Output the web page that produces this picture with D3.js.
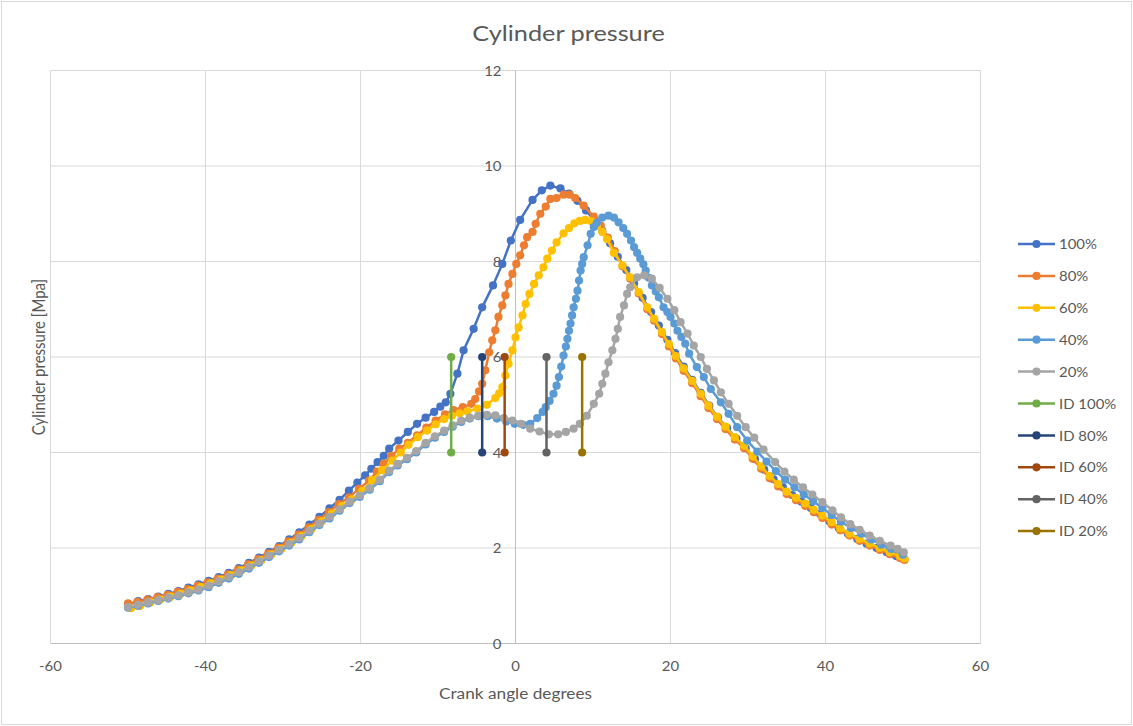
<!DOCTYPE html>
<html>
<head>
<meta charset="utf-8">
<script src="https://cdn.jsdelivr.net/npm/d3@7"></script>
<style>
  html, body { margin: 0; padding: 0; background: #fff; }
  svg { display: block; }
  text { font-family: Lato, "Open Sans", sans-serif; fill: #595959; }
</style>
</head>
<body>
<svg id="chart" width="1133" height="726"></svg>
<script>
// Cylinder pressure [MPa] against crank angle [deg], one list of [angle, pressure] per load
const load100 = [
  [-50.0,0.80],[-48.7,0.89],[-47.4,0.93],[-46.1,0.98],[-44.8,1.04],[-43.5,1.10],[-42.2,1.17],[-40.9,1.24],
  [-39.6,1.31],[-38.3,1.39],[-37.0,1.48],[-35.7,1.58],[-34.4,1.69],[-33.1,1.80],[-31.8,1.92],[-30.5,2.04],
  [-29.2,2.18],[-27.9,2.33],[-26.6,2.49],[-25.3,2.65],[-24.0,2.83],[-22.7,3.01],[-21.5,3.20],[-20.4,3.37],
  [-19.4,3.52],[-18.6,3.66],[-17.8,3.80],[-17.0,3.93],[-16.3,4.08],[-15.1,4.25],[-13.9,4.43],[-12.7,4.60],
  [-11.6,4.73],[-10.5,4.85],[-9.7,4.96],[-9.0,5.05],[-8.4,5.23],[-7.5,5.65],[-6.7,6.14],[-5.4,6.59],
  [-4.3,7.04],[-2.9,7.50],[-1.7,7.95],[-0.6,8.44],[0.6,8.87],[2.2,9.29],[3.4,9.49],[4.5,9.59],
  [5.8,9.53],[6.9,9.42],[8.0,9.27],[9.1,9.07],[10.2,8.86],[11.2,8.64],[12.2,8.38],[13.2,8.10],
  [14.3,7.82],[15.3,7.54],[16.4,7.24],[17.5,6.94],[18.5,6.66],[19.6,6.36],[20.6,6.08],[21.7,5.80],
  [22.8,5.52],[23.9,5.25],[25.0,4.98],[26.1,4.74],[27.3,4.51],[28.5,4.29],[29.7,4.09],[30.9,3.86],
  [32.1,3.64],[33.3,3.44],[34.5,3.27],[35.7,3.11],[36.9,2.97],[38.1,2.84],[39.3,2.71],[40.5,2.56],
  [41.7,2.42],[42.9,2.30],[44.1,2.19],[45.3,2.09],[46.6,2.00],[47.9,1.91],[49.1,1.83],[50.1,1.77]
];
const load80 = [
  [-50.0,0.84],[-48.8,0.87],[-47.5,0.92],[-46.2,0.97],[-44.9,1.02],[-43.6,1.08],[-42.3,1.14],[-41.0,1.21],
  [-39.7,1.28],[-38.4,1.36],[-37.1,1.45],[-35.8,1.55],[-34.5,1.66],[-33.2,1.77],[-31.9,1.89],[-30.6,2.01],
  [-29.3,2.14],[-28.0,2.28],[-26.7,2.43],[-25.4,2.59],[-24.1,2.75],[-22.8,2.92],[-21.5,3.06],[-20.2,3.24],
  [-18.9,3.41],[-17.9,3.60],[-17.0,3.76],[-16.0,3.93],[-15.0,4.08],[-13.9,4.20],[-12.7,4.36],[-11.5,4.52],
  [-10.3,4.67],[-9.1,4.80],[-8.0,4.89],[-6.8,4.95],[-5.7,5.02],[-5.2,5.12],[-4.7,5.28],[-4.3,5.44],
  [-3.9,5.72],[-3.4,6.10],[-3.0,6.35],[-2.6,6.56],[-2.2,6.84],[-1.7,7.08],[-1.3,7.29],[-0.9,7.53],
  [-0.4,7.74],[0.1,7.95],[0.6,8.13],[1.1,8.34],[1.5,8.51],[2.2,8.62],[2.6,8.79],[3.2,9.00],
  [3.9,9.15],[4.5,9.31],[5.3,9.33],[6.2,9.40],[7.0,9.40],[7.7,9.33],[8.8,9.17],[10.1,8.94],
  [11.0,8.75],[11.9,8.50],[12.8,8.22],[13.8,7.90],[14.8,7.64],[15.9,7.33],[17.0,7.00],[17.9,6.76],
  [18.9,6.48],[19.8,6.22],[20.7,5.97],[21.7,5.71],[22.8,5.45],[23.9,5.18],[24.9,4.93],[26.0,4.70],
  [27.1,4.49],[28.3,4.27],[29.5,4.09],[30.6,3.87],[31.7,3.66],[32.8,3.46],[33.9,3.29],[35.0,3.13],
  [36.2,3.00],[37.4,2.88],[38.5,2.75],[39.6,2.63],[40.8,2.49],[41.9,2.37],[43.1,2.26],[44.4,2.15],
  [45.7,2.05],[47.0,1.96],[48.3,1.87],[49.6,1.79],[50.2,1.75]
];
const load60 = [
  [-49.6,0.74],[-48.4,0.79],[-47.1,0.86],[-45.8,0.92],[-44.5,0.98],[-43.2,1.04],[-41.9,1.11],[-40.6,1.18],
  [-39.3,1.26],[-38.0,1.34],[-36.7,1.43],[-35.4,1.53],[-34.1,1.63],[-32.8,1.74],[-31.5,1.86],[-30.2,1.98],
  [-28.9,2.11],[-27.6,2.25],[-26.3,2.40],[-25.0,2.56],[-23.7,2.72],[-22.4,2.88],[-21.1,3.02],[-19.8,3.19],
  [-18.5,3.42],[-17.2,3.63],[-15.9,3.83],[-14.8,4.00],[-13.8,4.16],[-12.6,4.32],[-11.4,4.46],[-10.3,4.59],
  [-9.2,4.70],[-8.2,4.77],[-7.2,4.82],[-6.2,4.86],[-4.9,4.92],[-3.7,5.00],[-2.6,5.14],[-2.1,5.24],
  [-1.7,5.37],[-1.3,5.61],[-0.9,5.86],[-0.4,6.14],[0.0,6.41],[0.4,6.62],[0.9,6.87],[1.3,7.11],
  [1.8,7.32],[2.4,7.53],[3.0,7.71],[3.6,7.88],[4.1,8.06],[4.7,8.23],[5.3,8.40],[6.2,8.59],
  [6.9,8.70],[7.6,8.80],[8.3,8.85],[9.0,8.87],[9.8,8.84],[10.5,8.75],[11.2,8.62],[11.8,8.47],
  [12.7,8.18],[13.8,7.92],[14.8,7.67],[15.9,7.36],[17.0,7.04],[17.9,6.80],[18.9,6.52],[19.8,6.27],
  [20.7,6.02],[21.7,5.76],[22.8,5.50],[23.9,5.23],[24.9,4.98],[26.0,4.75],[27.1,4.54],[28.3,4.32],
  [29.5,4.14],[30.6,3.92],[31.7,3.71],[32.8,3.51],[33.9,3.34],[35.0,3.18],[36.2,3.05],[37.4,2.93],
  [38.5,2.80],[39.6,2.68],[40.8,2.54],[41.9,2.41],[43.1,2.30],[44.4,2.19],[45.7,2.09],[47.0,2.00],
  [48.3,1.91],[49.6,1.83],[50.2,1.78]
];
const load40 = [
  [-50.0,0.75],[-48.7,0.79],[-47.4,0.84],[-46.1,0.89],[-44.8,0.94],[-43.5,0.99],[-42.2,1.05],[-40.9,1.11],
  [-39.6,1.18],[-38.3,1.27],[-37.0,1.36],[-35.7,1.46],[-34.4,1.57],[-33.1,1.69],[-31.8,1.81],[-30.5,1.93],
  [-29.2,2.05],[-27.9,2.18],[-26.6,2.33],[-25.3,2.48],[-24.0,2.62],[-22.7,2.78],[-21.4,2.94],[-20.1,3.07],
  [-18.8,3.22],[-17.5,3.40],[-16.3,3.59],[-15.2,3.73],[-14.0,3.86],[-12.8,4.00],[-11.6,4.17],[-10.4,4.31],
  [-9.2,4.43],[-8.1,4.54],[-7.0,4.64],[-5.9,4.71],[-4.8,4.76],[-3.6,4.76],[-2.4,4.71],[-1.2,4.65],
  [-0.1,4.60],[1.0,4.58],[1.9,4.60],[2.8,4.72],[3.5,4.85],[3.9,4.95],[4.4,5.08],[4.9,5.23],
  [5.3,5.40],[5.6,5.58],[5.9,5.80],[6.2,6.03],[6.5,6.22],[6.7,6.38],[6.9,6.55],[7.1,6.70],
  [7.3,6.87],[7.5,7.04],[7.8,7.22],[8.0,7.39],[8.2,7.60],[8.4,7.81],[8.6,7.95],[8.8,8.09],
  [9.3,8.34],[9.7,8.58],[10.1,8.72],[10.5,8.81],[11.2,8.92],[12.0,8.96],[12.7,8.92],[13.3,8.82],
  [13.9,8.70],[14.4,8.58],[14.9,8.44],[15.3,8.30],[15.7,8.18],[16.1,8.06],[16.5,7.94],[16.8,7.81],
  [17.2,7.66],[17.6,7.50],[18.1,7.37],[18.5,7.25],[19.1,7.04],[19.6,6.94],[20.0,6.84],[20.5,6.70],
  [20.9,6.55],[21.4,6.42],[21.9,6.28],[22.4,6.07],[23.4,5.79],[24.3,5.58],[25.2,5.33],[26.5,5.05],
  [27.5,4.81],[28.6,4.53],[29.9,4.25],[31.2,4.02],[32.4,3.81],[33.6,3.61],[34.8,3.43],[36.0,3.27],
  [37.2,3.12],[38.4,2.98],[39.6,2.84],[40.8,2.69],[42.0,2.55],[43.3,2.42],[44.6,2.30],[45.9,2.18],
  [47.2,2.07],[48.5,1.98],[50.0,1.86]
];
const load20 = [
  [-50.0,0.76],[-48.7,0.81],[-47.4,0.86],[-46.1,0.91],[-44.8,0.96],[-43.5,1.01],[-42.2,1.07],[-40.9,1.13],
  [-39.6,1.21],[-38.3,1.30],[-37.0,1.39],[-35.7,1.49],[-34.4,1.60],[-33.1,1.72],[-31.8,1.84],[-30.5,1.96],
  [-29.2,2.08],[-27.9,2.21],[-26.6,2.36],[-25.3,2.51],[-24.0,2.65],[-22.7,2.81],[-21.4,2.97],[-20.1,3.10],
  [-18.8,3.25],[-17.5,3.43],[-16.3,3.62],[-15.2,3.76],[-14.0,3.89],[-12.8,4.03],[-11.6,4.20],[-10.4,4.34],
  [-9.2,4.46],[-8.1,4.57],[-7.0,4.67],[-5.9,4.73],[-4.8,4.77],[-3.7,4.79],[-2.6,4.78],[-1.5,4.72],
  [-0.4,4.67],[0.7,4.60],[1.9,4.50],[3.1,4.44],[4.3,4.38],[5.5,4.38],[6.5,4.43],[7.5,4.50],
  [8.3,4.60],[9.2,4.77],[10.1,5.02],[10.8,5.23],[11.2,5.44],[11.6,5.65],[12.0,5.89],[12.5,6.14],
  [12.9,6.38],[13.2,6.59],[13.5,6.84],[14.0,7.08],[14.4,7.32],[14.8,7.46],[15.7,7.67],[16.6,7.71],
  [17.6,7.64],[18.6,7.45],[19.6,7.22],[20.5,6.98],[21.3,6.73],[22.2,6.49],[23.0,6.24],[23.9,6.00],
  [24.7,5.75],[25.6,5.51],[26.5,5.26],[27.5,5.02],[28.6,4.77],[29.7,4.53],[30.8,4.31],[32.0,4.06],
  [33.5,3.80],[34.7,3.60],[35.9,3.43],[37.1,3.27],[38.3,3.12],[39.6,2.96],[40.9,2.79],[42.0,2.64],
  [43.2,2.50],[44.4,2.38],[45.7,2.26],[47.0,2.15],[48.4,2.05],[49.3,1.98],[50.1,1.91]
];

// Ignition delay markers: crank angle of each, drawn as a bar spanning idRange
const idAngles = [-8.3, -4.3, -1.4, 4.0, 8.6];
const idRange = [4, 6];

const loadNames = ["100%", "80%", "60%", "40%", "20%"];
const idNames = ["ID 100%", "ID 80%", "ID 60%", "ID 40%", "ID 20%"];
const loadColors = ["#4472C4", "#ED7D31", "#FFC000", "#5B9BD5", "#A5A5A5"];
const idColors = ["#70AD47", "#264478", "#9E480E", "#636363", "#997300"];

const xTicks = [-60, -40, -20, 0, 20, 40, 60];
const yTicks = [0, 2, 4, 6, 8, 10, 12];

const W = 1133, H = 726;
const svg = d3.select("#chart");

const x = d3.scaleLinear().domain([-60, 60]).range([50.5, 980.5]);
const y = d3.scaleLinear().domain([0, 12]).range([643.5, 70.5]);

// chart frame
svg.append("rect").attr("x", 1.5).attr("y", 1.5).attr("width", W - 3).attr("height", H - 3)
  .attr("fill", "#fff").attr("stroke", "#D9D9D9").attr("stroke-width", 1);

// gridlines
const grid = svg.append("g");
grid.selectAll("line.v").data(xTicks.filter(t => t !== 0)).join("line")
  .attr("x1", d => x(d)).attr("x2", d => x(d)).attr("y1", y(12)).attr("y2", y(0))
  .attr("stroke", "#D9D9D9").attr("stroke-width", 1);
grid.selectAll("line.h").data(yTicks.filter(t => t !== 0)).join("line")
  .attr("x1", x(-60)).attr("x2", x(60)).attr("y1", d => y(d)).attr("y2", d => y(d))
  .attr("stroke", "#D9D9D9").attr("stroke-width", 1);

// axis lines crossing at the origin
svg.append("line").attr("x1", x(-60)).attr("x2", x(60)).attr("y1", y(0)).attr("y2", y(0))
  .attr("stroke", "#BFBFBF").attr("stroke-width", 1);
svg.append("line").attr("x1", x(0)).attr("x2", x(0)).attr("y1", y(12)).attr("y2", y(0))
  .attr("stroke", "#BFBFBF").attr("stroke-width", 1);

const SX = 1.15; // horizontal text stretch

function label(g, tx, ty, str, size, anchor, rotate) {
  const t = g.append("text")
    .attr("transform", `translate(${tx},${ty})` + (rotate ? ` rotate(${rotate})` : "") + ` scale(${rotate ? 1 : SX},${rotate ? SX : 1})`)
    .attr("text-anchor", anchor)
    .attr("dominant-baseline", "central")
    .style("font-size", size + "px")
    .text(str);
  return t;
}

const texts = svg.append("g");
xTicks.forEach(t => label(texts, x(t), 666, String(t), 13, "middle"));
yTicks.forEach(t => label(texts, x(0) - 14, y(t), String(t), 13, "end"));

label(texts, W / 2 + 2, 33, "Cylinder pressure", 22, "middle");
label(texts, (x(-60) + x(60)) / 2, 693, "Crank angle degrees", 15, "middle");
label(texts, 38, (y(0) + y(12)) / 2, "Cylinder pressure [Mpa]", 15, "middle", -90);

// series
const line = d3.line().x(d => x(d[0])).y(d => y(d[1]));
const loads = [load100, load80, load60, load40, load20];
const R = 4.1;

const plot = svg.append("g");
loads.forEach((data, i) => {
  const g = plot.append("g");
  g.append("path").datum(data).attr("d", line)
    .attr("fill", "none").attr("stroke", loadColors[i]).attr("stroke-width", 2.5)
    .attr("stroke-linejoin", "round");
  g.selectAll("circle").data(data).join("circle")
    .attr("cx", d => x(d[0])).attr("cy", d => y(d[1])).attr("r", R)
    .attr("fill", loadColors[i]);
});

idAngles.forEach((a, i) => {
  const data = idRange.map(p => [a, p]);
  const g = plot.append("g");
  g.append("path").datum(data).attr("d", line)
    .attr("fill", "none").attr("stroke", idColors[i]).attr("stroke-width", 2.5);
  g.selectAll("circle").data(data).join("circle")
    .attr("cx", d => x(d[0])).attr("cy", d => y(d[1])).attr("r", R)
    .attr("fill", idColors[i]);
});

// legend
const legendItems = loadNames.map((n, i) => ({ name: n, color: loadColors[i] }))
  .concat(idNames.map((n, i) => ({ name: n, color: idColors[i] })));
const lg = svg.append("g");
legendItems.forEach((it, i) => {
  const ly = 244 + i * 31.9;
  lg.append("line").attr("x1", 1018).attr("x2", 1055).attr("y1", ly).attr("y2", ly)
    .attr("stroke", it.color).attr("stroke-width", 2.5);
  lg.append("circle").attr("cx", 1036.5).attr("cy", ly).attr("r", R).attr("fill", it.color);
  label(lg, 1059, ly, it.name, 13, "start");
});
</script>
</body>
</html>
